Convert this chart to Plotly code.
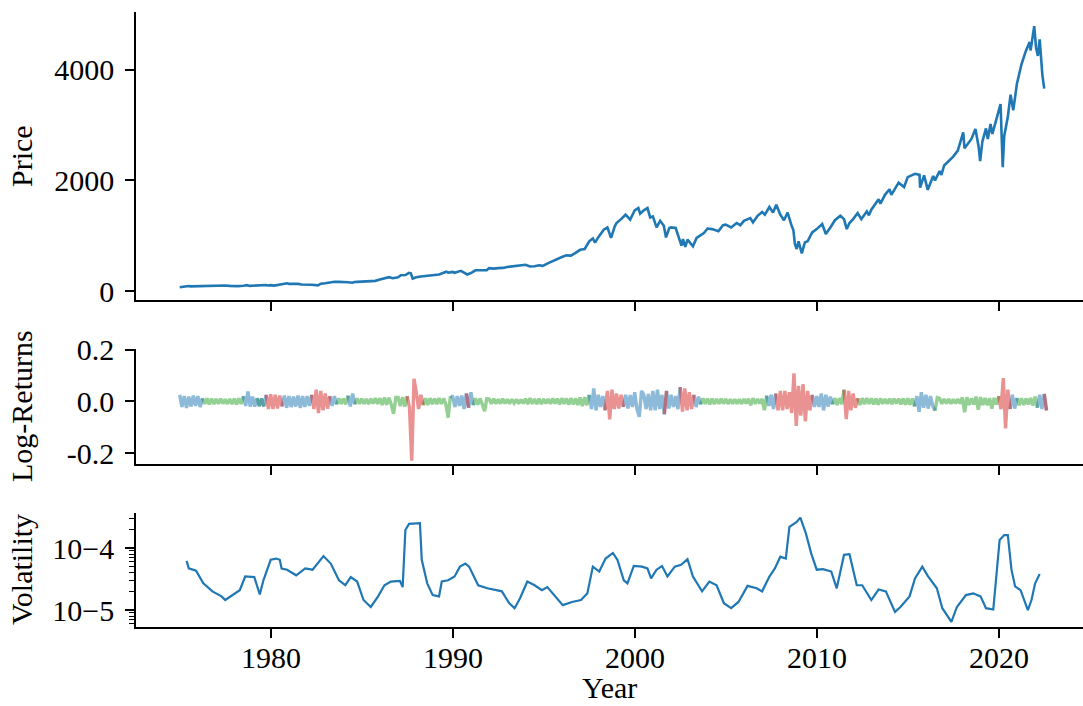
import plotly.graph_objects as go

# ---------------- data ----------------
price_year = [1975.0, 1975.25, 1975.5, 1975.6, 1975.75, 1976.0, 1976.25, 1976.5, 1976.75, 1977.0, 1977.25, 1977.5, 1977.75,
              1978.0, 1978.2, 1978.5, 1978.7, 1978.85, 1979.0, 1979.25, 1979.5, 1979.75, 1979.85, 1980.0, 1980.2, 1980.5,
              1980.75, 1980.9, 1981.0, 1981.25, 1981.5, 1981.7, 1982.0, 1982.25, 1982.6, 1982.75, 1983.0, 1983.25, 1983.5,
              1983.75, 1984.0, 1984.25, 1984.5, 1984.6, 1984.75, 1985.0, 1985.25, 1985.5, 1985.75, 1986.0, 1986.25, 1986.5,
              1986.7, 1986.85, 1987.0, 1987.15, 1987.4, 1987.6, 1987.7, 1987.8, 1987.9, 1988.0, 1988.25, 1988.5, 1988.75,
              1989.0, 1989.25, 1989.5, 1989.65, 1989.78, 1990.0, 1990.1, 1990.45, 1990.8, 1991.0, 1991.25, 1991.5, 1991.75,
              1991.87, 1992.0, 1992.25, 1992.5, 1992.75, 1993.0, 1993.25, 1993.5, 1993.75, 1994.0, 1994.25, 1994.5, 1994.75,
              1994.95, 1995.25, 1995.5, 1995.75, 1996.0, 1996.25, 1996.5, 1996.75, 1997.0, 1997.25, 1997.5, 1997.7, 1997.82,
              1998.0, 1998.3, 1998.5, 1998.7, 1998.9, 1999.0, 1999.25, 1999.5, 1999.75, 2000.0, 2000.2, 2000.3, 2000.5,
              2000.7, 2000.85, 2001.0, 2001.2, 2001.4, 2001.6, 2001.72, 2001.9, 2002.0, 2002.25, 2002.5, 2002.57, 2002.65,
              2002.78, 2002.9, 2003.0, 2003.2, 2003.4, 2003.6, 2003.8, 2004.0, 2004.25, 2004.6, 2004.85, 2005.0, 2005.3,
              2005.6, 2005.8, 2006.0, 2006.35, 2006.5, 2006.75, 2007.0, 2007.15, 2007.4, 2007.6, 2007.78, 2008.0, 2008.2,
              2008.4, 2008.6, 2008.72, 2008.8, 2008.9, 2009.0, 2009.18, 2009.35, 2009.5, 2009.75, 2010.0, 2010.3, 2010.5,
              2010.75, 2011.0, 2011.3, 2011.5, 2011.65, 2011.8, 2012.0, 2012.25, 2012.45, 2012.75, 2012.87, 2013.0, 2013.4,
              2013.5, 2013.75, 2014.0, 2014.1, 2014.5, 2014.8, 2015.0, 2015.4, 2015.65, 2015.68, 2015.9, 2016.1, 2016.4,
              2016.5, 2016.75, 2016.85, 2017.0, 2017.5, 2017.75, 2018.05, 2018.12, 2018.5, 2018.72, 2018.9, 2018.98,
              2019.1, 2019.3, 2019.4, 2019.55, 2019.65, 2019.9, 2020.1, 2020.22, 2020.3, 2020.5, 2020.65, 2020.8, 2021.0,
              2021.25, 2021.5, 2021.7, 2021.75, 2021.95, 2022.05, 2022.15, 2022.25, 2022.4, 2022.5]
price_value = [70, 83, 92, 85, 86, 95, 102, 104, 102, 106, 98, 100, 94,
               90, 88, 96, 106, 93, 97, 101, 102, 109, 101, 107, 98, 117,
               126, 140, 130, 134, 130, 117, 118, 113, 103, 133, 140, 152, 168,
               166, 166, 158, 150, 164, 166, 170, 180, 191, 184, 209, 235, 250,
               232, 245, 250, 285, 290, 330, 322, 225, 242, 250, 262, 272, 278,
               285, 300, 330, 350, 333, 345, 330, 365, 300, 325, 375, 380, 385,
               375, 415, 405, 415, 418, 435, 445, 448, 462, 475, 445, 448, 465,
               455, 505, 545, 580, 615, 645, 640, 690, 745, 760, 900, 950, 876,
               975, 1110, 1150, 960, 1165, 1230, 1300, 1380, 1290, 1460, 1500, 1400, 1460,
               1500, 1330, 1350, 1150, 1270, 1180, 970, 1140, 1150, 1140, 900, 820, 940,
               800, 930, 890, 810, 960, 1000, 1050, 1130, 1120, 1080, 1190, 1200, 1150,
               1230, 1190, 1270, 1320, 1240, 1360, 1430, 1380, 1520, 1420, 1560, 1380, 1280,
               1420, 1200, 1100, 850, 760, 900, 680, 880, 900, 1060, 1120, 1210, 1030,
               1150, 1280, 1360, 1300, 1120, 1230, 1300, 1410, 1300, 1440, 1370, 1470, 1660,
               1580, 1740, 1840, 1740, 1960, 1880, 2060, 2120, 2100, 1870, 2090, 1830, 2080,
               2000, 2170, 2100, 2270, 2430, 2540, 2870, 2580, 2750, 2930, 2600, 2350,
               2700, 2940, 2750, 3020, 2840, 3150, 3380, 2240, 2800, 3150, 3550, 3270, 3750,
               4100, 4350, 4500, 4350, 4790, 4400, 4250, 4550, 3900, 3660]

# log-returns, sampled every 1/8 year from 1975.0 (one row per year)
ret_start = 1975.0
ret_step = 0.125
ret_values = [
    0.025, -0.022, 0.02, -0.025, 0.018, -0.02, 0.022, -0.018,      # 1975
    0.02, -0.022, 0.012, -0.01, 0.011, -0.012, 0.01, -0.011,       # 1976
    0.009, -0.01, 0.01, -0.009, 0.008, -0.01, 0.009, -0.011,       # 1977
    0.01, -0.012, 0.011, -0.01, 0.02, -0.018, 0.038, -0.02,        # 1978
    0.018, -0.02, 0.012, -0.018, 0.011, -0.02, 0.025, -0.03,       # 1979
    0.027, -0.03, 0.025, -0.028, 0.022, -0.02, 0.022, -0.025,      # 1980
    0.02, -0.022, 0.018, -0.02, 0.022, -0.025, 0.02, -0.022,       # 1981
    0.02, -0.018, 0.025, -0.03, 0.045, -0.045, 0.04, -0.035,       # 1982
    0.03, -0.028, 0.02, -0.018, 0.02, -0.012, 0.011, -0.01,        # 1983
    0.01, -0.012, 0.022, -0.02, 0.03, -0.012, 0.011, -0.01,        # 1984
    0.01, -0.01, 0.009, -0.011, 0.01, -0.009, 0.012, -0.01,        # 1985
    0.012, -0.014, 0.015, -0.013, 0.014, -0.012, -0.048, 0.015,    # 1986
    0.015, -0.018, 0.016, -0.02, 0.02, -0.025, -0.229, 0.087,      # 1987
    0.035, -0.03, 0.025, -0.015, 0.012, -0.014, 0.012, -0.011,     # 1988
    0.01, -0.011, 0.012, -0.01, 0.011, -0.012, -0.063, 0.02,       # 1989
    0.018, -0.022, 0.02, -0.018, 0.022, -0.03, 0.03, -0.025,       # 1990
    0.035, -0.015, 0.012, -0.013, 0.011, -0.012, -0.038, 0.01,     # 1991
    0.009, -0.01, 0.01, -0.009, 0.008, -0.009, 0.01, -0.008,       # 1992
    0.008, -0.009, 0.008, -0.007, 0.008, -0.009, 0.007, -0.008,    # 1993
    0.01, -0.011, 0.012, -0.01, 0.009, -0.011, 0.01, -0.011,       # 1994
    0.009, -0.008, 0.009, -0.01, 0.011, -0.009, 0.01, -0.012,      # 1995
    0.012, -0.01, 0.011, -0.013, 0.012, -0.012, 0.011, -0.014,     # 1996
    0.015, -0.018, 0.016, -0.015, 0.025, -0.03, 0.05, -0.035,      # 1997
    0.025, -0.022, 0.02, -0.035, 0.04, -0.07, 0.045, -0.03,        # 1998
    0.03, -0.028, 0.025, -0.022, 0.025, -0.028, 0.024, -0.022,     # 1999
    0.035, -0.03, -0.06, 0.04, 0.025, -0.03, 0.028, -0.035,        # 2000
    0.04, -0.035, 0.045, -0.03, 0.025, -0.05, 0.04, -0.028,        # 2001
    0.025, -0.022, 0.02, -0.03, 0.055, -0.04, 0.05, -0.035,        # 2002
    0.035, -0.03, 0.025, -0.022, 0.018, -0.012, 0.011, -0.01,      # 2003
    0.01, -0.012, 0.01, -0.011, 0.009, -0.01, 0.01, -0.009,        # 2004
    0.009, -0.01, 0.008, -0.009, 0.008, -0.009, 0.008, -0.01,      # 2005
    0.009, -0.008, 0.01, -0.015, 0.012, -0.01, 0.009, -0.008,      # 2006
    0.01, -0.034, 0.022, -0.018, 0.025, -0.03, 0.03, -0.035,       # 2007
    0.04, -0.035, 0.04, -0.03, 0.035, -0.045, 0.108, -0.095,       # 2008
    0.06, -0.055, 0.066, -0.077, 0.04, -0.035, 0.025, -0.022,      # 2009
    0.02, -0.022, 0.03, -0.035, 0.025, -0.02, 0.018, -0.012,       # 2010
    0.012, -0.014, 0.012, -0.011, 0.045, -0.069, 0.04, -0.035,     # 2011
    0.03, -0.025, 0.012, -0.014, 0.012, -0.011, 0.012, -0.01,      # 2012
    0.011, -0.012, 0.01, -0.013, 0.011, -0.01, 0.009, -0.01,       # 2013
    0.01, -0.011, 0.01, -0.009, 0.01, -0.012, 0.011, -0.013,       # 2014
    0.012, -0.013, 0.011, -0.02, 0.02, -0.04, 0.035, -0.025,       # 2015
    0.025, -0.028, 0.02, -0.018, -0.036, 0.014, 0.011, -0.01,      # 2016
    0.009, -0.008, 0.009, -0.009, 0.008, -0.008, 0.009, -0.008,    # 2017
    0.015, -0.042, 0.016, -0.014, 0.011, -0.012, 0.018, -0.032,    # 2018
    0.016, -0.014, 0.013, -0.015, 0.012, -0.028, 0.013, -0.012,    # 2019
    0.02, -0.03, 0.09, -0.105, 0.045, -0.03, 0.025, -0.028,        # 2020
    0.013, -0.015, 0.012, -0.014, 0.011, -0.012, 0.013, -0.016,    # 2021
    0.018, -0.025, 0.025, -0.03, 0.028, -0.035,                    # 2022
]
# regime of each sample: G = calm, B = moderate, R = turbulent
ret_regimes = [
    "BBBBBBBB", "BBGGGGGG", "GGGGGGGG", "GGGGBBBB", "BBGBGBRR",   # 1975-1979
    "RRRRRBBB", "BBBBBBBB", "BBRRRRRR", "RRBBBGGG", "GGBBBGGG",   # 1980-1984
    "GGGGGGGG", "GGGGGGGG", "GGGGRRRR", "RRRGGGGG", "GGGGGGGB",   # 1985-1989
    "BBBBBBRB", "BGGGGGGG", "GGGGGGGG", "GGGGGGGG", "GGGGGGGG",   # 1990-1994
    "GGGGGGGG", "GGGGGGGG", "GGGGBBBB", "BBBRRRRR", "RRRBBBBB",   # 1995-1999
    "BBBBBBBB", "BBBBBRBB", "BBBBRRRR", "RRBBBGGG", "GGGGGGGG",   # 2000-2004
    "GGGGGGGG", "GGGGGGGG", "GGBBBBRR", "RRRRRRRR", "RRRRRRBB",   # 2005-2009
    "BBBBBBBG", "GGGGRRRR", "RRGGGGGG", "GGGGGGGG", "GGGGGGGG",   # 2010-2014
    "GGGBBBBB", "BBBBGGGG", "GGGGGGGG", "GGGGGGGG", "GGGGGGGG",   # 2015-2019
    "RRRRRBBB", "GGGGGGGG", "GBBBRB",                             # 2020-2022
]

vol_year = [1975.38, 1975.5, 1975.9, 1976.3, 1976.8, 1977.3, 1977.5, 1977.9, 1978.3, 1978.6, 1979.1, 1979.4, 1979.6,
            1980.0, 1980.3, 1980.5, 1980.6, 1980.9, 1981.4, 1981.9, 1982.3, 1982.9, 1983.3, 1983.75, 1984.1, 1984.4,
            1984.75, 1985.1, 1985.5, 1985.9, 1986.25, 1986.6, 1987.1, 1987.25, 1987.4, 1987.6, 1988.2, 1988.3, 1988.6,
            1988.9, 1989.25, 1989.4, 1989.75, 1990.1, 1990.4, 1990.7, 1990.9, 1991.4, 1991.9, 1992.4, 1992.7, 1993.1,
            1993.4, 1993.7, 1994.1, 1994.5, 1994.9, 1995.2, 1995.7, 1996.05, 1996.55, 1997.05, 1997.4, 1997.7, 1998.05,
            1998.4, 1998.8, 1999.05, 1999.4, 1999.6, 1999.95, 2000.4, 2000.7, 2000.9, 2001.2, 2001.5, 2001.8, 2002.2,
            2002.55, 2002.9, 2003.2, 2003.7, 2004.1, 2004.5, 2004.9, 2005.3, 2005.7, 2006.2, 2006.7, 2007.0, 2007.4,
            2007.7, 2008.0, 2008.3, 2008.5, 2008.9, 2009.1, 2009.4, 2009.7, 2010.0, 2010.35, 2010.8, 2011.1, 2011.5,
            2011.8, 2012.2, 2012.5, 2013.0, 2013.4, 2013.8, 2014.3, 2014.6, 2015.1, 2015.4, 2015.8, 2016.1, 2016.6,
            2016.9, 2017.4, 2017.7, 2018.2, 2018.6, 2019.0, 2019.3, 2019.7, 2020.05, 2020.3, 2020.5, 2020.7, 2020.9,
            2021.2, 2021.4, 2021.6, 2021.8, 2022.0, 2022.25]
vol_value = [6.2e-5, 4.7e-5, 4.3e-5, 2.7e-5, 2.0e-5, 1.66e-5, 1.45e-5, 1.74e-5, 2.09e-5, 3.47e-5, 3.39e-5, 1.78e-5, 3.02e-5,
             6.46e-5, 6.76e-5, 6.46e-5, 4.68e-5, 4.47e-5, 3.63e-5, 4.68e-5, 4.47e-5, 7.41e-5, 5.62e-5, 3.02e-5, 2.51e-5, 3.39e-5,
             2.88e-5, 1.45e-5, 1.12e-5, 1.66e-5, 2.51e-5, 2.88e-5, 2.95e-5, 2.34e-5, 1.95e-4, 2.45e-4, 2.51e-4, 6.46e-5, 2.69e-5,
             1.74e-5, 1.66e-5, 2.88e-5, 3.02e-5, 3.47e-5, 5.01e-5, 5.62e-5, 5.01e-5, 2.51e-5, 2.24e-5, 2.09e-5, 2.0e-5, 1.29e-5,
             1.07e-5, 1.55e-5, 2.88e-5, 2.51e-5, 2.09e-5, 2.34e-5, 1.55e-5, 1.20e-5, 1.35e-5, 1.45e-5, 1.86e-5, 5.01e-5, 4.17e-5,
             6.76e-5, 8.32e-5, 6.46e-5, 3.02e-5, 2.69e-5, 5.13e-5, 5.01e-5, 4.68e-5, 3.24e-5, 4.47e-5, 5.13e-5, 3.47e-5, 5.01e-5,
             5.37e-5, 6.61e-5, 3.47e-5, 2.0e-5, 2.88e-5, 2.51e-5, 1.29e-5, 1.07e-5, 1.35e-5, 2.45e-5, 2.24e-5, 2.0e-5, 3.47e-5,
             4.68e-5, 7.24e-5, 6.76e-5, 2.19e-4, 2.63e-4, 3.09e-4, 1.74e-4, 8.13e-5, 4.47e-5, 4.57e-5, 4.17e-5, 2.24e-5, 7.76e-5,
             7.94e-5, 2.51e-5, 2.51e-5, 1.45e-5, 2.14e-5, 2.0e-5, 9.33e-6, 1.12e-5, 1.66e-5, 3.24e-5, 5.01e-5, 3.55e-5, 2.24e-5,
             1.07e-5, 6.46e-6, 1.12e-5, 1.74e-5, 1.86e-5, 1.66e-5, 1.07e-5, 1.02e-5, 1.35e-4, 1.62e-4, 1.62e-4, 4.47e-5, 2.40e-5,
             2.09e-5, 1.45e-5, 1.0e-5, 1.45e-5, 2.69e-5, 3.80e-5]

x_ticks = [1980, 1990, 2000, 2010, 2020]
x_ticktext = ["1980", "1990", "2000", "2010", "2020"]
price_ticks = [0, 2000, 4000]
ret_ticks = [-0.2, 0.0, 0.2]
ret_ticktext = ["-0.2", "0.0", "0.2"]
vol_ticks = [1e-5, 1e-4]
vol_ticktext = ["10\u22125", "10\u22124"]
vol_minor = [6e-6, 7e-6, 8e-6, 9e-6, 2e-5, 3e-5, 4e-5, 5e-5, 6e-5, 7e-5, 8e-5, 9e-5, 2e-4, 3e-4]

regime_colors = {"G": "#2ca02c", "B": "#1f77b4", "R": "#d62728"}

# ---------------- figure ----------------
FONT = "Liberation Serif"
FS = 30
fig = go.Figure()

fig.add_trace(go.Scatter(x=price_year, y=price_value, mode="lines",
                         line=dict(color="#1f77b4", width=2.6), xaxis="x", yaxis="y"))

regs = "".join(ret_regimes)
assert len(regs) == len(ret_values)
ret_year = [ret_start + i * ret_step for i in range(len(ret_values))]
for code in "GBR":
    ys = []
    for i, v in enumerate(ret_values):
        if regs[i] == code or (i > 0 and regs[i - 1] == code):
            ys.append(v)
        else:
            ys.append(None)
    fig.add_trace(go.Scatter(x=ret_year, y=ys, mode="lines", opacity=0.5,
                             line=dict(color=regime_colors[code], width=3.4),
                             connectgaps=False, xaxis="x2", yaxis="y2"))

assert len(vol_year) == len(vol_value)
fig.add_trace(go.Scatter(x=vol_year, y=vol_value, mode="lines",
                         line=dict(color="#1f77b4", width=2.2), xaxis="x3", yaxis="y3"))

H = 706.0
W = 947.0
def dom(top_px, bot_px):
    return [(H - bot_px) / H, (H - top_px) / H]

xr = [1972.60, 2024.63]
axis_common = dict(showline=True, linecolor="black", linewidth=1.7, ticks="outside", ticklen=9,
                   tickwidth=1.7, tickcolor="black", showgrid=False, zeroline=False, automargin=False,
                   tickfont=dict(family=FONT, size=FS, color="black"))

fig.update_layout(
    width=1083, height=706, margin=dict(l=136, r=0, t=0, b=0, autoexpand=False),
    paper_bgcolor="white", plot_bgcolor="white", showlegend=False,
    font=dict(family=FONT, size=FS, color="black"),
    xaxis=dict(domain=[0, 1], anchor="y", range=xr, tickvals=x_ticks, showticklabels=False, **axis_common),
    xaxis2=dict(domain=[0, 1], anchor="y2", range=xr, tickvals=x_ticks, showticklabels=False,
                matches="x", **axis_common),
    xaxis3=dict(domain=[0, 1], anchor="y3", range=xr, tickvals=x_ticks, matches="x",
                showticklabels=False, **axis_common),
    yaxis=dict(domain=dom(12, 300), anchor="x", range=[-162, 5045], tickvals=price_ticks,
               ticklabelstandoff=5, **axis_common),
    yaxis2=dict(domain=dom(349, 464), anchor="x2", range=[-0.242, 0.202], tickvals=ret_ticks,
                ticktext=ret_ticktext, ticklabelstandoff=5, **axis_common),
    yaxis3=dict(domain=dom(513, 627), anchor="x3", type="log", range=[-5.274, -3.435],
                tickvals=vol_ticks, ticktext=vol_ticktext, ticklabelstandoff=5,
                minor=dict(tickvals=vol_minor, ticks="outside", ticklen=5, tickwidth=1.3, tickcolor="black"),
                **axis_common),
)

# x tick labels of the bottom panel, placed at the tick values on the shared year axis
for tv, tt in zip(x_ticks, x_ticktext):
    fig.add_annotation(text=tt, xref="x3", yref="paper", x=tv, y=(H - 657) / H,
                       xanchor="center", yanchor="middle", showarrow=False,
                       font=dict(family=FONT, size=FS, color="black"))

for text, ymid in [("Price", 156), ("Log-Returns", 406), ("Volatility", 570)]:
    fig.add_annotation(text=text, xref="paper", yref="paper", x=(21 - 136) / W, y=(H - ymid) / H,
                       xanchor="center", yanchor="middle", showarrow=False, textangle=-90,
                       font=dict(family=FONT, size=FS, color="black"))

fig.add_annotation(text="Year", xref="paper", yref="paper", x=(609 - 136) / W, y=(H - 687) / H,
                   xanchor="center", yanchor="middle", showarrow=False,
                   font=dict(family=FONT, size=FS, color="black"))

fig.write_html("out.html")
